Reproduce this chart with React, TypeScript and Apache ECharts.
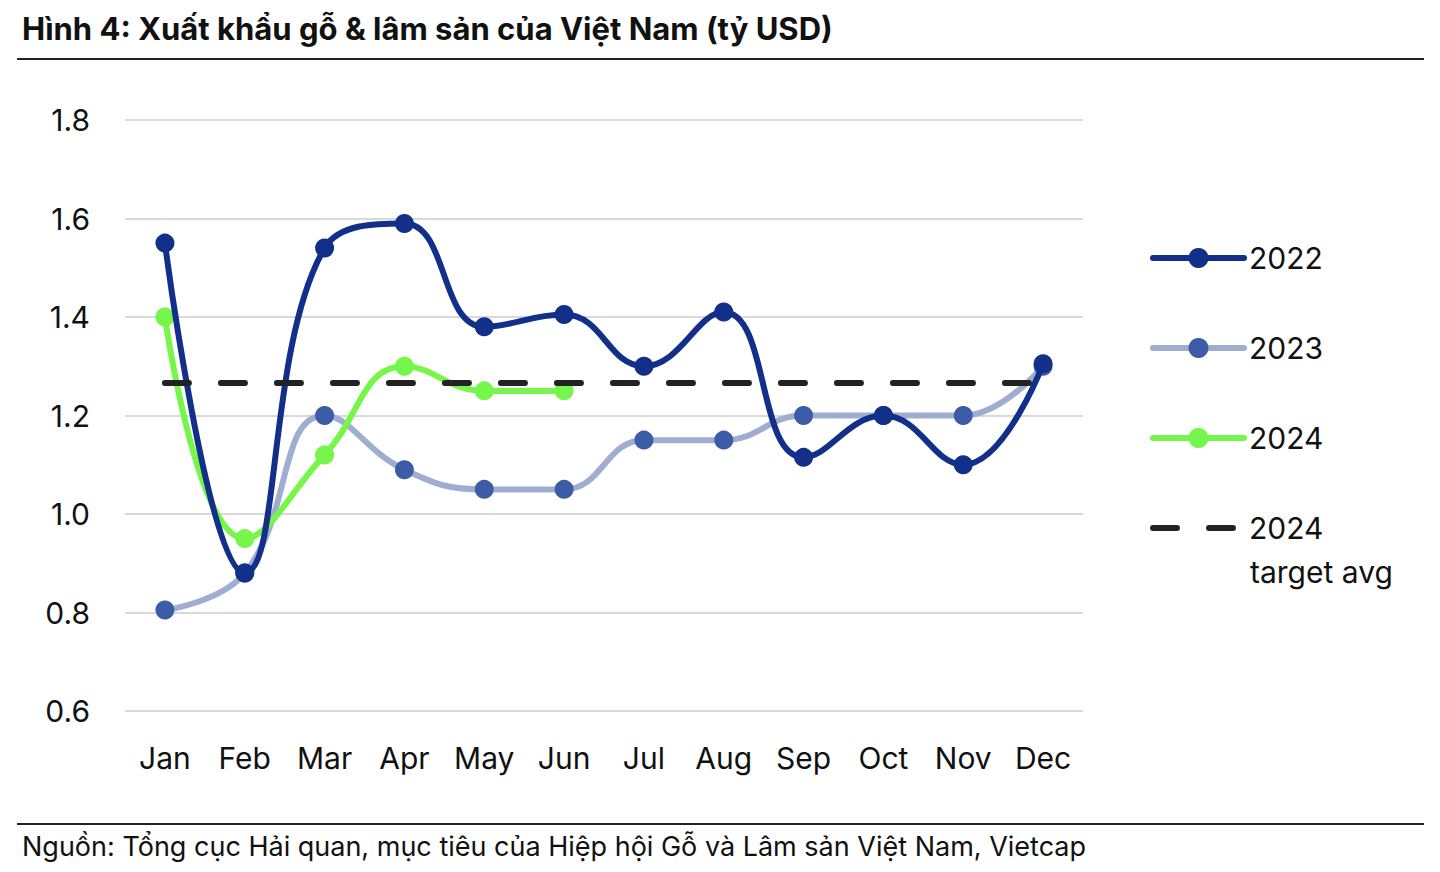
import React, { useEffect, useRef } from "react";
import * as echarts from "echarts";

const months = ["Jan", "Feb", "Mar", "Apr", "May", "Jun", "Jul", "Aug", "Sep", "Oct", "Nov", "Dec"];
const s2022 = [1.55, 0.88, 1.54, 1.59, 1.38, 1.405, 1.30, 1.41, 1.115, 1.20, 1.10, 1.305];
const s2023 = [0.805, 0.88, 1.20, 1.09, 1.05, 1.05, 1.15, 1.15, 1.20, 1.20, 1.20, 1.30];
const s2024 = [1.40, 0.95, 1.12, 1.30, 1.25, 1.25];
const targetAvg = [1.266, 1.266, 1.266, 1.266, 1.266, 1.266, 1.266, 1.266, 1.266, 1.266, 1.266, 1.266];
const yTicks = { min: 0.6, max: 1.8, interval: 0.2 };

const FONT = "Inter, 'Noto Sans', sans-serif";

export default function App() {
  const ref = useRef<HTMLDivElement>(null);
  useEffect(() => {
    if (!ref.current) return;
    const chart = echarts.init(ref.current, null, { renderer: "svg" });
    chart.setOption({
      animation: false,
      backgroundColor: "#ffffff",
      textStyle: { fontFamily: FONT },
      grid: { left: 125, right: 357, top: 120, bottom: 161, containLabel: false },
      xAxis: {
        type: "category",
        data: months,
        boundaryGap: true,
        axisLine: { show: false },
        axisTick: { show: false },
        axisLabel: { color: "#111", fontSize: 30, margin: 32, fontFamily: FONT },
      },
      yAxis: {
        type: "value",
        min: yTicks.min,
        max: yTicks.max,
        interval: yTicks.interval,
        axisLine: { show: false },
        axisTick: { show: false },
        axisLabel: {
          color: "#111",
          fontSize: 30,
          margin: 35,
          fontFamily: FONT,
          formatter: (v: number) => v.toFixed(1),
        },
        splitLine: { lineStyle: { color: "#d9d9d9", width: 2 } },
      },
      legend: {
        orient: "vertical",
        left: 1150,
        top: 243,
        padding: 0,
        itemWidth: 91,
        itemHeight: 25,
        itemGap: 60,
        lineStyle: { width: 6, cap: "round" },
        textStyle: { fontSize: 30, color: "#111", fontFamily: FONT },
        data: [
          { name: "2022" },
          { name: "2023" },
          { name: "2024" },
          { name: "2024 ", itemStyle: { opacity: 0 } },
        ],
        formatter: (name: string) => (name === "2024 " ? "2024" : name),
      },
      graphic: [
        {
          type: "text",
          left: 22,
          top: 13,
          style: {
            text: "Hình 4: Xuất khẩu gỗ & lâm sản của Việt Nam (tỷ USD)",
            font: `bold 31px ${FONT}`,
            fill: "#111",
          },
        },
        {
          type: "line",
          shape: { x1: 17, y1: 59, x2: 1424, y2: 59 },
          style: { stroke: "#222", lineWidth: 2 },
        },
        {
          type: "line",
          shape: { x1: 17, y1: 824, x2: 1424, y2: 824 },
          style: { stroke: "#222", lineWidth: 2 },
        },
        {
          type: "text",
          left: 22,
          top: 833,
          style: {
            text: "Nguồn: Tổng cục Hải quan, mục tiêu của Hiệp hội Gỗ và Lâm sản Việt Nam, Vietcap",
            font: `27px ${FONT}`,
            fill: "#111",
          },
        },
        {
          type: "text",
          left: 1250,
          top: 557,
          style: { text: "target avg", font: `30px ${FONT}`, fill: "#111" },
        },
      ],
      series: [
        {
          name: "2022",
          type: "line",
          data: s2022,
          smooth: 0.45,
          symbol: "circle",
          symbolSize: 19,
          lineStyle: { color: "#12308a", width: 6 },
          itemStyle: { color: "#12308a" },
          z: 5,
        },
        {
          name: "2023",
          type: "line",
          data: s2023,
          smooth: 0.45,
          symbol: "circle",
          symbolSize: 19,
          lineStyle: { color: "#9fadd0", width: 6 },
          itemStyle: { color: "#3d5ca8" },
          z: 3,
        },
        {
          name: "2024",
          type: "line",
          data: s2024,
          smooth: 0.45,
          symbol: "circle",
          symbolSize: 19,
          lineStyle: { color: "#76f64a", width: 6 },
          itemStyle: { color: "#76f64a" },
          z: 4,
        },
        {
          name: "2024 ",
          type: "line",
          data: targetAvg,
          symbol: "none",
          lineStyle: { color: "#222", width: 6, type: [24, 32], cap: "round" },
          itemStyle: { color: "#222" },
          z: 6,
        },
      ],
    });
    return () => chart.dispose();
  }, []);
  return (
    <div
      ref={ref}
      style={{ position: "absolute", left: 0, top: 0, width: 1440, height: 872 }}
    />
  );
}
